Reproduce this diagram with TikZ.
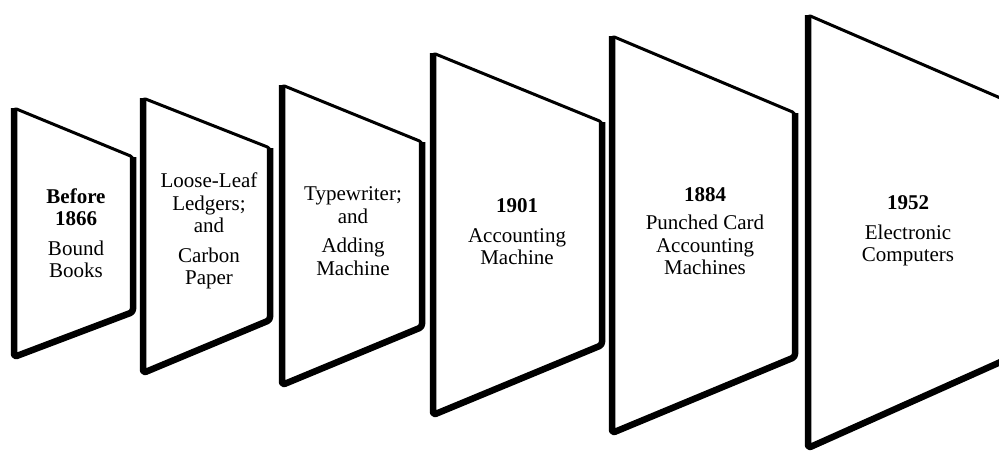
\documentclass[tikz,border=0pt]{standalone}
\usepackage{fontspec}
\setmainfont{Liberation Serif}

\begin{document}
\begin{tikzpicture}[x=1pt, y=-1pt,
  panel/.style={fill=white, draw=black, line width=3pt, rounded corners=3pt, line join=round},
  rim/.style={draw=black, line width=6.5pt, rounded corners=3pt, line join=round},
  label/.style={font=\fontsize{21}{22.5}\selectfont, align=center, inner sep=0pt}]
\useasboundingbox (0, 0) rectangle (999, 453);
% panels, small to large
\draw[panel] (14, 108) -- (14, 357) -- (133, 312) -- (133, 157) -- cycle;
\draw[rim] (14, 108) -- (14, 357) -- (133, 312) -- (133, 157);
\draw[panel] (143, 98) -- (143, 373) -- (270, 320) -- (270, 148) -- cycle;
\draw[rim] (143, 98) -- (143, 373) -- (270, 320) -- (270, 148);
\draw[panel] (282, 85) -- (282, 385) -- (422, 327) -- (422, 142) -- cycle;
\draw[rim] (282, 85) -- (282, 385) -- (422, 327) -- (422, 142);
\draw[panel] (433, 53) -- (433, 415) -- (602, 345) -- (602, 122) -- cycle;
\draw[rim] (433, 53) -- (433, 415) -- (602, 345) -- (602, 122);
\draw[panel] (612, 36) -- (612, 433) -- (795, 357) -- (795, 113) -- cycle;
\draw[rim] (612, 36) -- (612, 433) -- (795, 357) -- (795, 113);
\draw[panel] (808, 15) -- (808, 448) -- (1005, 360) -- (1005, 100) -- cycle;
\draw[rim] (808, 15) -- (808, 448) -- (1005, 360) -- (1005, 100);
% texts
\node[label] (bound) at (76, 233) {\textbf{Before}\\\textbf{1866}\\[7pt]Bound\\Books};
\node[label] (carbon) at (209, 231) {Loose-Leaf\\Ledgers;\\and\\[7pt]Carbon\\Paper};
\node[label] (adding) at (353, 231) {Typewriter;\\and\\[7pt]Adding\\Machine};
\node[label] (accmach) at (517, 232) {\textbf{1901}\\[7pt]Accounting\\Machine};
\node[label] (punched) at (705, 231) {\textbf{1884}\\[6pt]Punched Card\\Accounting\\Machines};
\node[label] (computers) at (908, 231) {\textbf{1952}\\[7pt]Electronic\\Computers};
\end{tikzpicture}
\end{document}
